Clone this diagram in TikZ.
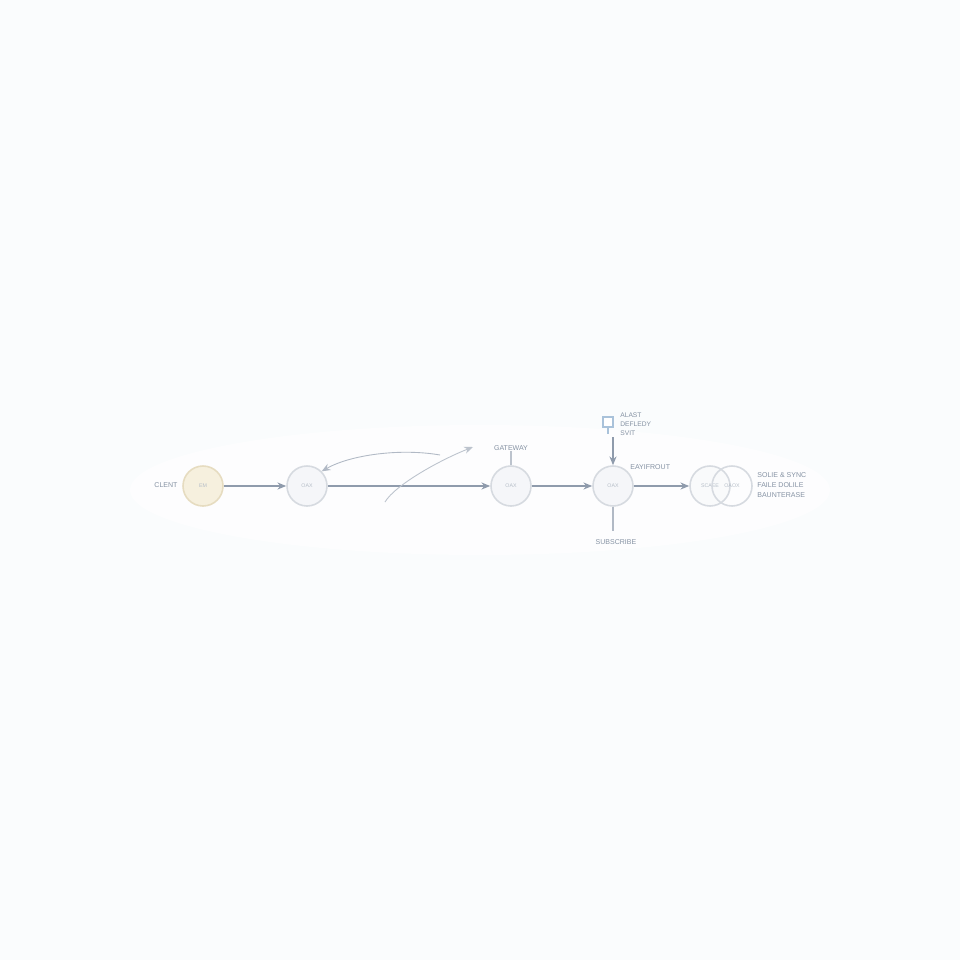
\documentclass[tikz,border=0pt]{standalone}
\usepackage{fontspec}
\setmainfont{Liberation Sans}
\usetikzlibrary{arrows.meta}
\definecolor{bg}{HTML}{FAFCFD}
\definecolor{ln}{HTML}{8F9BAC}
\definecolor{tx}{HTML}{8592A3}
\definecolor{cy}{HTML}{F6F0DE}
\definecolor{cyd}{HTML}{E6DCC0}
\definecolor{cg}{HTML}{F5F6F9}
\definecolor{cgd}{HTML}{D6DAE0}
\definecolor{bl}{HTML}{A9C2DA}
\tikzset{
  nd/.style={circle,minimum size=40*0.02cm,inner sep=0pt,draw=cgd,line width=0.9pt,fill=cg,font=\fontsize{3}{4}\selectfont,text=tx!60},
  ndy/.style={nd,fill=cy,draw=cyd},
  lbl/.style={font=\fontsize{4}{5}\selectfont,text=tx,inner sep=0pt,align=left},
  con/.style={draw=ln,line width=0.8pt,-{Stealth[length=5pt,width=4pt]}},
  faint/.style={draw=ln!45,line width=0.5pt}
}
\begin{document}
\begin{tikzpicture}[x=0.02cm,y=-0.02cm]
\fill[bg] (0,0) rectangle (960,960);
\useasboundingbox (0,0) rectangle (960,960);
\fill[white,opacity=0.6] (480,490) ellipse (350 and 65);
% nodes
\node[lbl] (client) at (166,485) {CLENT};
\node[ndy] (n1) at (203,486) {EM};
\node[nd] (n2) at (307,486) {OAX};
\node[nd] (n3) at (511,486) {OAX};
\node[nd] (n4) at (613,486) {OAX};
\node[nd,fill=cg!60] (n5a) at (710,486) {SCAEE};
\node[nd,fill=none] (n5b) at (732,486) {OAOX};
% labels
\node[lbl] (gw) at (511,448) {GATEWAY};
\node[lbl,anchor=west] (ep) at (630,467) {EAYIFROUT};
\node[lbl,anchor=west,font=\fontsize{3.8}{5}\selectfont] (cache) at (620,424) {ALAST\\DEFLEDY\\SVIT};
\node[draw=bl,fill=white,line width=0.8pt,minimum size=10*0.02cm,inner sep=0pt] (sq) at (608,422) {};
\node[lbl] (sub) at (616,542) {SUBSCRIBE};
\node[lbl,anchor=west,font=\fontsize{4}{5.5}\selectfont] (sync) at (757,485) {SOLIE \& SYNC\\FAILE DOLILE\\BAUNTERASE};
\coordinate (cg) at (473,447);
\coordinate (cs) at (385,502);
\coordinate (ct) at (440,455);
\coordinate (sb) at (613,531);
\coordinate (sqb) at (613,437);
% connectors
\draw[con] (n1) -- (n2);
\draw[con] (n2) -- (n3);
\draw[con] (n3) -- (n4);
\draw[con] (n4) -- (n5a);
\draw[con,draw=ln!70,line width=0.5pt] (ct) .. controls (400,448) and (350,455) .. (n2.north east);
\draw[faint,-{Stealth[length=5pt,width=4pt]},draw=ln!60] (cs) .. controls (395,485) and (440,460) .. (cg);
\draw[ln!60,line width=0.7pt] (gw.south) -- (n3.north);
\draw[bl,line width=0.6pt] (sq.south) -- ++(0,6);
\draw[con,draw=ln] (sqb) -- (n4.north);
\draw[ln!70,line width=0.8pt] (n4.south) -- (sb);
\end{tikzpicture}
\end{document}
